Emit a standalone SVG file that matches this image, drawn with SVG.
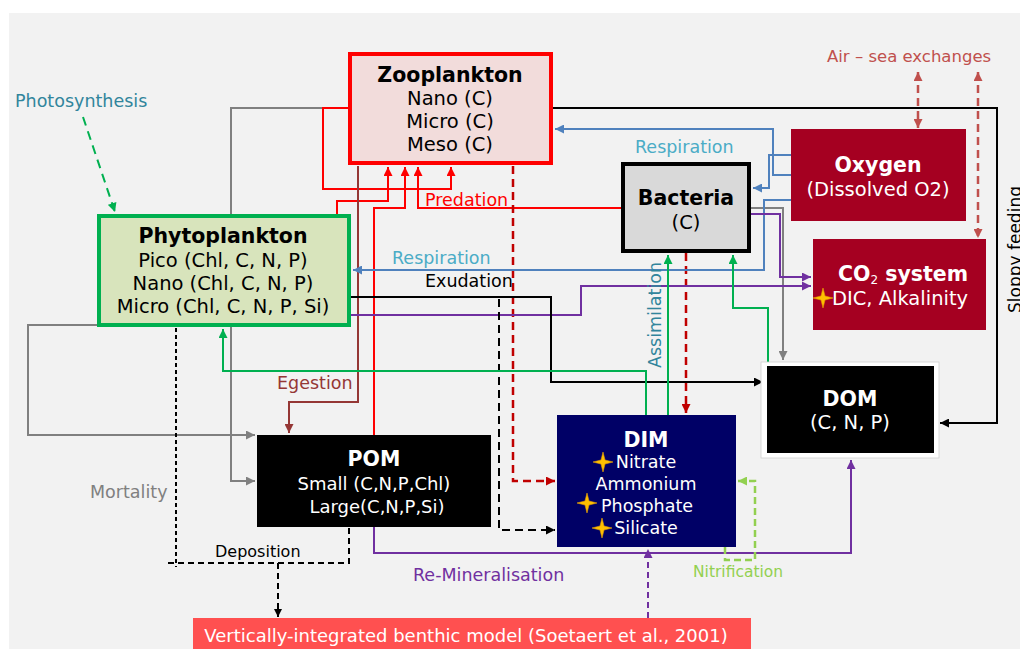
<svg xmlns="http://www.w3.org/2000/svg" width="1020" height="649" viewBox="0 0 1020 649">
<style>
text{font-family:"DejaVu Sans","Verdana",sans-serif}
.c{fill:none;stroke-width:2;stroke-linejoin:miter}
.red{stroke:#ff0000}.brn{stroke:#953735}.drd{stroke:#c00000;stroke-dasharray:8 5;stroke-width:2.5}
.blk{stroke:#000}.blu{stroke:#4f81bd}.gry{stroke:#808080}.pur{stroke:#7030a0}.grn{stroke:#00b050}
.lgr{stroke:#92d050;stroke-dasharray:7 4;stroke-width:2.5}.air{stroke:#c0504d;stroke-dasharray:8 5;stroke-width:2.5}
.t{font-size:19.5px;text-anchor:middle}.b{font-weight:bold;font-size:20.5px;text-anchor:middle}
.w{fill:#fff}.s{font-size:17.5px;text-anchor:middle}
.lab{font-size:17.5px}
</style>
<defs>
<marker id="aRed" viewBox="0 0 10 10" refX="10" refY="5" markerWidth="10" markerHeight="9" markerUnits="userSpaceOnUse" orient="auto"><path d="M0,0L10,5L0,10z" fill="#ff0000"/></marker>
<marker id="aBrn" viewBox="0 0 10 10" refX="10" refY="5" markerWidth="10" markerHeight="9" markerUnits="userSpaceOnUse" orient="auto"><path d="M0,0L10,5L0,10z" fill="#953735"/></marker>
<marker id="aDrd" viewBox="0 0 10 10" refX="10" refY="5" markerWidth="10" markerHeight="9" markerUnits="userSpaceOnUse" orient="auto"><path d="M0,0L10,5L0,10z" fill="#c00000"/></marker>
<marker id="aBlk" viewBox="0 0 10 10" refX="10" refY="5" markerWidth="10" markerHeight="9" markerUnits="userSpaceOnUse" orient="auto"><path d="M0,0L10,5L0,10z" fill="#000"/></marker>
<marker id="aBlkS" viewBox="0 0 10 10" refX="10" refY="5" markerWidth="8" markerHeight="8" markerUnits="userSpaceOnUse" orient="auto"><path d="M0,0L10,5L0,10z" fill="#000"/></marker>
<marker id="aBlu" viewBox="0 0 10 10" refX="10" refY="5" markerWidth="10" markerHeight="9" markerUnits="userSpaceOnUse" orient="auto"><path d="M0,0L10,5L0,10z" fill="#4f81bd"/></marker>
<marker id="aGry" viewBox="0 0 10 10" refX="10" refY="5" markerWidth="10" markerHeight="9" markerUnits="userSpaceOnUse" orient="auto"><path d="M0,0L10,5L0,10z" fill="#808080"/></marker>
<marker id="aPur" viewBox="0 0 10 10" refX="10" refY="5" markerWidth="10" markerHeight="9" markerUnits="userSpaceOnUse" orient="auto"><path d="M0,0L10,5L0,10z" fill="#7030a0"/></marker>
<marker id="aGrn" viewBox="0 0 10 10" refX="10" refY="5" markerWidth="10" markerHeight="9" markerUnits="userSpaceOnUse" orient="auto"><path d="M0,0L10,5L0,10z" fill="#00b050"/></marker>
<marker id="aLgr" viewBox="0 0 10 10" refX="10" refY="5" markerWidth="10" markerHeight="9" markerUnits="userSpaceOnUse" orient="auto"><path d="M0,0L10,5L0,10z" fill="#92d050"/></marker>
<marker id="aAir" viewBox="0 0 10 10" refX="10" refY="5" markerWidth="10" markerHeight="9" markerUnits="userSpaceOnUse" orient="auto-start-reverse"><path d="M0,0L10,5L0,10z" fill="#c0504d"/></marker>
<path id="star" d="M0,-10L2,-2L10,0L2,2L0,10L-2,2L-10,0L-2,-2z" fill="#ffc000" stroke="#e8a000" stroke-width="0.6"/>
</defs>
<rect x="0" y="0" width="1020" height="649" fill="#fff"/>
<rect x="9" y="13" width="1011" height="636" fill="#f2f2f2"/>

<g id="connectors">
<path class="c gry" d="M348,108H231V481H255" marker-end="url(#aGry)"/>
<path class="c gry" d="M97,325H28V435H255" marker-end="url(#aGry)"/>
<path class="c gry" d="M751,208H783V360" marker-end="url(#aGry)"/>
<path class="c red" d="M348,108H323V189H451V167" marker-end="url(#aRed)"/>
<path class="c red" d="M337,214V201H388V167" marker-end="url(#aRed)"/>
<path class="c red" d="M374,435V208H405V167" marker-end="url(#aRed)"/>
<path class="c red" d="M621,208H418V167" marker-end="url(#aRed)"/>
<path class="c brn" d="M358,166V402H289V433" marker-end="url(#aBrn)"/>
<path class="c drd" d="M513,166V481H555" marker-end="url(#aDrd)"/>
<path class="c drd" d="M686,253V413" marker-end="url(#aDrd)"/>
<path class="c blk" d="M553,108H997V423H940" marker-end="url(#aBlk)"/>
<path class="c blu" d="M791,175H773V129H555" marker-end="url(#aBlu)"/>
<path class="c blu" d="M791,155H769V188H753" marker-end="url(#aBlu)"/>
<path class="c blu" d="M791,200H764V270H353" marker-end="url(#aBlu)"/>
<path class="c pur" d="M751,214H780V277H811" marker-end="url(#aPur)"/>
<path class="c pur" d="M351,315H581V286H811" marker-end="url(#aPur)"/>
<path class="c pur" d="M374,527V553H851V460" marker-end="url(#aPur)"/>
<path class="c pur" d="M648,618V549" stroke-dasharray="6 4" stroke-width="2.5" marker-end="url(#aPur)"/>
<path class="c blk" d="M351,297H551V382H763" marker-end="url(#aBlk)"/>
<path class="c blk" d="M499,299V530H555" stroke-dasharray="8 5" stroke-width="2.5" marker-end="url(#aBlk)"/>
<path class="c grn" d="M646,415V371H223V329" marker-end="url(#aGrn)"/>
<path class="c grn" d="M668,415V255" marker-end="url(#aGrn)"/>
<path class="c grn" d="M768,362V308H733V255" marker-end="url(#aGrn)"/>
<path class="c lgr" d="M725,547V560H755V481H738" marker-end="url(#aLgr)"/>
<path class="c blk" d="M176,328V567" stroke-width="1.3" stroke-dasharray="4 3"/>
<path class="c blk" d="M168,563H349V528" stroke-width="1.5" stroke-dasharray="6 4"/>
<path class="c blk" d="M278,563V617" stroke-width="1.5" stroke-dasharray="6 4" marker-end="url(#aBlkS)"/>
<path class="c air" d="M918,72V128" marker-start="url(#aAir)" marker-end="url(#aAir)"/>
<path class="c air" d="M978,72V238" marker-start="url(#aAir)" marker-end="url(#aAir)"/>
<path class="c grn" d="M83,117L115,212" stroke-width="3" stroke-dasharray="9 6" marker-end="url(#aGrn)"/>
</g>

<g id="zooplankton">
<rect x="350" y="54" width="201" height="109" fill="#f2dcdb" stroke="#ff0000" stroke-width="4"/>
<text class="b" x="450" y="82">Zooplankton</text>
<text class="t" x="450" y="105">Nano (C)</text>
<text class="t" x="450" y="128">Micro (C)</text>
<text class="t" x="450" y="151">Meso (C)</text>
</g>
<g id="phytoplankton">
<rect x="99" y="216" width="250" height="109" fill="#d8e4bc" stroke="#00b050" stroke-width="4"/>
<text class="b" x="223" y="243">Phytoplankton</text>
<text class="t" x="223" y="267">Pico (Chl, C, N, P)</text>
<text class="t" x="223" y="290">Nano (Chl, C, N, P)</text>
<text class="t" x="223" y="313">Micro (Chl, C, N, P, Si)</text>
</g>
<g id="bacteria">
<rect x="623" y="164" width="126" height="87" fill="#d9d9d9" stroke="#000" stroke-width="4"/>
<text class="b" x="686" y="205">Bacteria</text>
<text class="t" x="686" y="229">(C)</text>
</g>
<g id="oxygen">
<rect x="791" y="129" width="175" height="92" fill="#a50021"/>
<text class="b w" x="878" y="172">Oxygen</text>
<text class="t w" x="878" y="196">(Dissolved O2)</text>
</g>
<g id="co2">
<rect x="813" y="239" width="173" height="91" fill="#a50021"/>
<text class="b w" x="903" y="281">CO<tspan font-size="12" dy="3" font-weight="normal">2</tspan><tspan dy="-3"> system</tspan></text>
<text class="t w" x="900" y="305">DIC, Alkalinity</text>
<use href="#star" x="823" y="298"/>
</g>
<g id="dom">
<rect x="761" y="362" width="178" height="96" fill="#fff" stroke="#d0d0d0" stroke-width="0.8"/>
<rect x="767" y="366" width="167" height="87" fill="#000"/>
<text class="b w" x="850" y="406">DOM</text>
<text class="t w" x="850" y="429">(C, N, P)</text>
</g>
<g id="dim">
<rect x="557" y="415" width="179" height="132" fill="#000066"/>
<text class="b w" x="646" y="447">DIM</text>
<text class="s w" x="646" y="468">Nitrate</text>
<text class="s w" x="646" y="490">Ammonium</text>
<text class="s w" x="647" y="512">Phosphate</text>
<text class="s w" x="646" y="534">Silicate</text>
<use href="#star" x="603" y="462"/>
<use href="#star" x="587" y="503"/>
<use href="#star" x="602" y="528"/>
</g>
<g id="pom">
<rect x="257" y="435" width="234" height="92" fill="#000"/>
<text class="b w" x="374" y="466">POM</text>
<text class="t w" x="374" y="490" style="font-size:18px">Small (C,N,P,Chl)</text>
<text class="t w" x="377" y="513" style="font-size:18px">Large(C,N,P,Si)</text>
</g>
<g id="benthic">
<rect x="193" y="618" width="558" height="31" fill="#ff5050"/>
<text class="w" x="466" y="642" style="font-size:18px;text-anchor:middle">Vertically-integrated benthic model (Soetaert et al., 2001)</text>
</g>

<g id="labels">
<text class="lab" x="15" y="107" fill="#31859c">Photosynthesis</text>
<text class="lab" x="827" y="62" fill="#c0504d" style="font-size:16.5px">Air – sea exchanges</text>
<text class="lab" x="635" y="153" fill="#4bacc6">Respiration</text>
<text class="lab" x="425" y="206" fill="#ff0000">Predation</text>
<text class="lab" x="392" y="264" fill="#4bacc6">Respiration</text>
<text class="lab" x="425" y="287" fill="#000">Exudation</text>
<text class="lab" transform="translate(661,368) rotate(-90)" fill="#31859c">Assimilation</text>
<text class="lab" x="277" y="389" fill="#953735">Egestion</text>
<text class="lab" x="90" y="498" fill="#808080">Mortality</text>
<text class="lab" x="215" y="557" fill="#000" style="font-size:16px">Deposition</text>
<text class="lab" x="413" y="581" fill="#7030a0">Re-Mineralisation</text>
<text class="lab" x="693" y="577" fill="#92d050" style="font-size:15.5px">Nitrification</text>
<text class="lab" transform="translate(1021,313) rotate(-90)" fill="#000" style="font-size:17px">Sloppy feeding</text>
</g>
</svg>
